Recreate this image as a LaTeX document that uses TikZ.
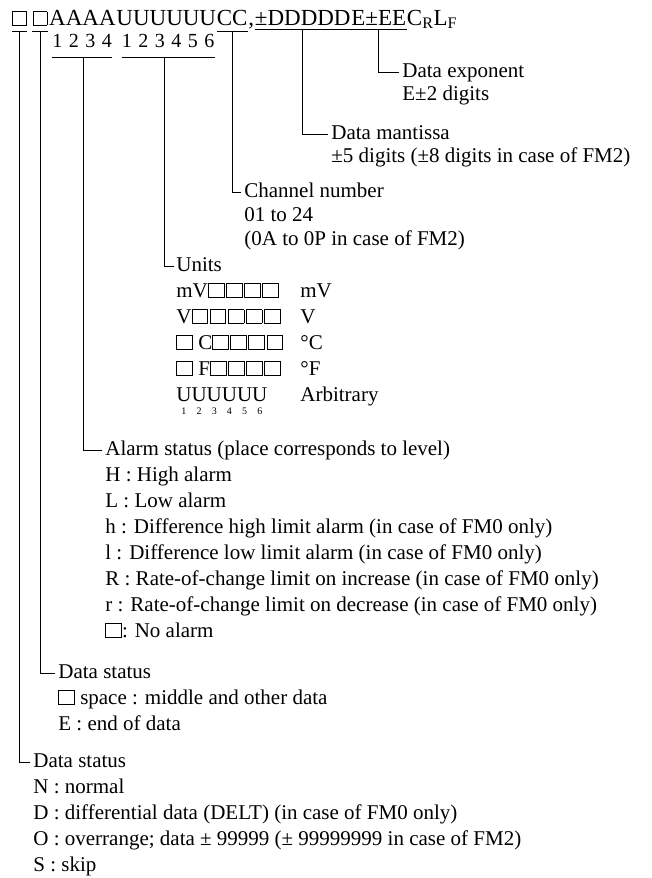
\documentclass[tikz,border=0pt]{standalone}
\usepackage{fontspec}
\setmainfont{Liberation Serif}
\usetikzlibrary{calc}
\newcommand\bx[1][15pt]{{\setlength\fboxsep{0pt}\setlength\fboxrule{0.8pt}\fbox{\rule{0pt}{13pt}\hspace{#1}}}}
\newcommand\bxs{\hspace{1.5pt}}
\newcommand\us[1]{\begin{tabular}[t]{@{}c@{}}U\\[-8pt]{\fontsize{10}{10}\selectfont #1}\end{tabular}}
\begin{document}
\begin{tikzpicture}[x=1pt,y=-1pt,line width=0.8pt,
  txt/.style={anchor=base west,inner sep=0pt,font=\fontsize{21}{21}\selectfont},
  toptxt/.style={anchor=base west,inner sep=0pt,font=\fontsize{23}{23}\selectfont},
  dig/.style={anchor=base,inner sep=0pt,font=\fontsize{20}{20}\selectfont},
  lead/.style={draw=black,line width=0.8pt}]
\useasboundingbox (0,0) rectangle (652,878);
\fill[white] (0,0) rectangle (652,878);
% top line
\node[toptxt] (b1) at (12,25) {\bx[13pt]};
\node[toptxt] (b2) at ($(b1.base east)+(5,0)$) {\bx[13pt]};
\node[toptxt] (aa) at ($(b2.base east)+(1,0)$) {AAAA};
\node[toptxt] (uu) at (aa.base east) {UUUUUU};
\node[toptxt] (cc) at (uu.base east) {CC};
\node[toptxt] (cm) at (cc.base east) {,\ };
\node[toptxt] (dd) at (cm.base east) {±DDDDD};
\node[toptxt] (ee) at (dd.base east) {E±EE};
\node[toptxt] (cl) at (ee.base east) {C\textsubscript{R}L\textsubscript{F}};
% digit rows
\node[dig] (g1) at (82,47) {1\hspace{6.5pt}2\hspace{6.5pt}3\hspace{6.5pt}4};
\node[dig] (g2) at (168,47) {1\hspace{6.5pt}2\hspace{6.5pt}3\hspace{6.5pt}4\hspace{6.5pt}5\hspace{6.5pt}6};
% branch texts
\node[txt] (de) at (402,77) {Data exponent};
\node[txt] (de2) at (402,100) {E±2 digits};
\node[txt] (dm) at (331,139) {Data mantissa};
\node[txt] (dm2) at (331,162) {±5 digits (±8 digits in case of FM2)};
\node[txt] (ch) at (244,197) {Channel number};
\node[txt] (ch2) at (244,221) {01 to 24};
\node[txt] (ch3) at (244,245) {(0A to 0P in case of FM2)};
\node[txt] (un) at (176,271) {Units};
\node[txt] (r1) at (176,297) {mV\bx\bxs\bx\bxs\bx\bxs\bx};
\node[txt] (r2) at (176,323) {V\bx\bxs\bx\bxs\bx\bxs\bx\bxs\bx};
\node[txt] (r3) at (176,349) {\bx\ C\bx\bxs\bx\bxs\bx\bxs\bx};
\node[txt] (r4) at (176,375) {\bx\ F\bx\bxs\bx\bxs\bx\bxs\bx};
\node[txt] (r5) at (176,401) {\us{1}\us{2}\us{3}\us{4}\us{5}\us{6}};
\node[txt] (c1) at (300,297) {mV};
\node[txt] (c2) at (300,323) {V};
\node[txt] (c3) at (300,349) {°C};
\node[txt] (c4) at (300,375) {°F};
\node[txt] (c5) at (300,401) {Arbitrary};
\node[txt] (al) at (105,455) {Alarm status (place corresponds to level)};
\node[txt] (a1) at (105,481) {H : High alarm};
\node[txt] (a2) at (105,507) {L : Low alarm};
\node[txt] (a3) at (105,533) {h : Difference high limit alarm (in case of FM0 only)};
\node[txt] (a4) at (105,559) {l : Difference low limit alarm (in case of FM0 only)};
\node[txt] (a5) at (105,585) {R : Rate-of-change limit on increase (in case of FM0 only)};
\node[txt] (a6) at (105,611) {r : Rate-of-change limit on decrease (in case of FM0 only)};
\node[txt] (a7) at (105,637) {\bx : No alarm};
\node[txt] (s2) at (58,678) {Data status};
\node[txt] (s21) at (58,704) {\bx\ space : middle and other data};
\node[txt] (s22) at (58,730) {E : end of data};
\node[txt] (s1) at (33,767) {Data status};
\node[txt] (s11) at (33,793) {N : normal};
\node[txt] (s12) at (33,819) {D : differential data (DELT) (in case of FM0 only)};
\node[txt] (s13) at (33,845) {O : overrange; data ± 99999 (± 99999999 in case of FM2)};
\node[txt] (s14) at (33,871) {S : skip};
% tie bars and underlines
\coordinate (t1a) at ($(b1.base west)+(0,6)$);
\coordinate (t1b) at ($(b1.base east)+(0,6)$);
\coordinate (t1) at ($(t1a)!0.5!(t1b)$);
\coordinate (t2a) at ($(b2.base west)+(0,6)$);
\coordinate (t2b) at ($(b2.base east)+(0,6)$);
\coordinate (t2) at ($(t2a)!0.5!(t2b)$);
\coordinate (t5a) at ($(cc.base west)+(0,6)$);
\coordinate (t5b) at ($(cc.base east)+(0,6)$);
\coordinate (t5) at ($(t5a)!0.5!(t5b)$);
\coordinate (t6a) at ($(dd.base west)+(0,4)$);
\coordinate (t6b) at ($(dd.base east)+(0,4)$);
\coordinate (t6) at ($(t6a)!0.5!(t6b)$);
\coordinate (t7a) at ($(ee.base west)+(0,4)$);
\coordinate (t7b) at ($(ee.base east)+(0,4)$);
\coordinate (t7) at ($(t7a)!0.5!(t7b)$);
\coordinate (t3a) at (52,57);
\coordinate (t3b) at (112,57);
\coordinate (t3) at (83,57);
\coordinate (t4a) at (122,57);
\coordinate (t4b) at (215,57);
\coordinate (t4) at (164,57);
\draw[lead] (t1a) -- (t1b) (t2a) -- (t2b) (t3a) -- (t3b) (t4a) -- (t4b)
  (t5a) -- (t5b) (t6a) -- (t6b) (t7a) -- (t7b);
% leaders
\draw[lead] (t7) |- ($(de.base west)+(-3,-5)$);
\draw[lead] (t6) |- ($(dm.base west)+(-3,-5)$);
\draw[lead] (t5) |- ($(ch.base west)+(-3,-5)$);
\draw[lead] (t4) |- ($(un.base west)+(-2,-5)$);
\draw[lead] (t3) |- ($(al.base west)+(-3,-5)$);
\draw[lead] (t2) |- ($(s2.base west)+(-3,-5)$);
\draw[lead] (t1) |- ($(s1.base west)+(-3,-5)$);
\end{tikzpicture}
\end{document}
